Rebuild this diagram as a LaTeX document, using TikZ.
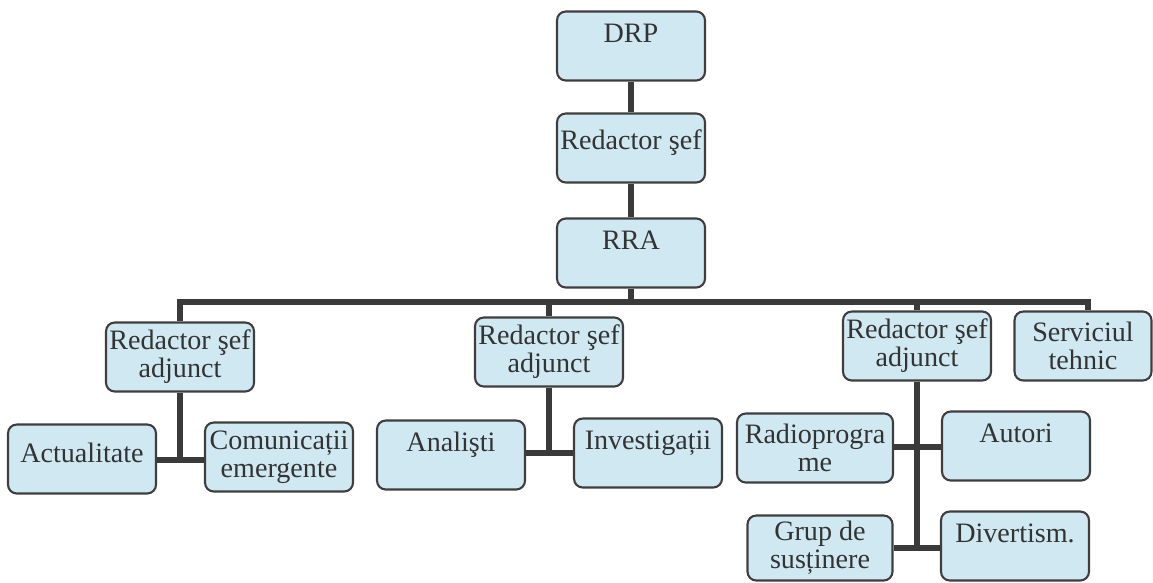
\documentclass[tikz,border=0pt]{standalone}
\usepackage{fontspec}
\setmainfont{Liberation Serif}
\definecolor{boxfill}{RGB}{208,232,241}
\definecolor{boxline}{RGB}{62,62,62}
\definecolor{linkcol}{RGB}{58,58,58}
\begin{document}
\begin{tikzpicture}[x=0.02cm, y=-0.02cm,
    box/.style={draw=boxline, fill=boxfill, line width=1.2pt, rounded corners=5pt,
        minimum width=2.96cm, minimum height=1.38cm, inner sep=1pt, align=center,
        text=black!80, font=\fontsize{16}{16}\selectfont},
    up/.style={text depth=15pt},
    conn/.style={draw=linkcol, line width=3.9pt}]
    \useasboundingbox (0,0) rectangle (1153,582);

    \node[box, up]  (drp)   at (631,46)   {DRP};
    \node[box, up, text depth=9pt]   (sef)   at (631,148)  {Redactor şef};
    \node[box, up]  (rra)   at (631,253)  {RRA};

    \node[box]      (adj1)  at (180,357)  {Redactor şef\\adjunct};
    \node[box]      (adj2)  at (549,352)  {Redactor şef\\adjunct};
    \node[box]      (adj3)  at (917,346)  {Redactor şef\\adjunct};
    \node[box, minimum width=2.74cm]  (serv)  at (1083,346) {Serviciul\\tehnic};

    \node[box, text depth=7pt]       (act)   at (82,459)   {Actualitate};
    \node[box]      (com)   at (279,457)  {Comunicații\\emergente};
    \node[box, up]  (ana)   at (451,455)  {Analişti};
    \node[box, up]  (inv)   at (648,453)  {Investigații};
    \node[box, minimum width=3.12cm]  (radio) at (815,448)  {Radioprogra\\me};
    \node[box, up]  (aut)   at (1016,446) {Autori};
    \node[box, minimum width=2.9cm, minimum height=1.3cm]  (grup)  at (820,548)  {Grup de\\susținere};
    \node[box, up]  (div)   at (1015,546) {Divertism.};

    \coordinate (busr) at (1088,302);
    \coordinate (j1) at (180,460);
    \coordinate (j2) at (549,453);
    \coordinate (j3) at (917,447);
    \coordinate (j4) at (917,548);

    \draw[conn]   (drp)   --  (sef);
    \draw[conn]   (sef)   --  (rra);
    \draw[conn]   (rra)   --  (rra |- busr);
    \draw[conn]   (adj1)  |-  (busr)  --  (busr |- serv.north);
    \draw[conn]   (adj2)  --  (adj2 |- busr);
    \draw[conn]   (adj3)  --  (adj3 |- busr);

    \draw[conn]   (adj1)  --  (j1);
    \draw[conn]   (act.east |- j1)  --  (com.west |- j1);
    \draw[conn]   (adj2)  --  (j2);
    \draw[conn]   (ana.east |- j2)  --  (inv.west |- j2);
    \draw[conn]   (adj3)  --  (j4);
    \draw[conn]   (radio.east |- j3)  --  (aut.west |- j3);
    \draw[conn]   (grup.east |- j4)  --  (div.west |- j4);
\end{tikzpicture}
\end{document}
